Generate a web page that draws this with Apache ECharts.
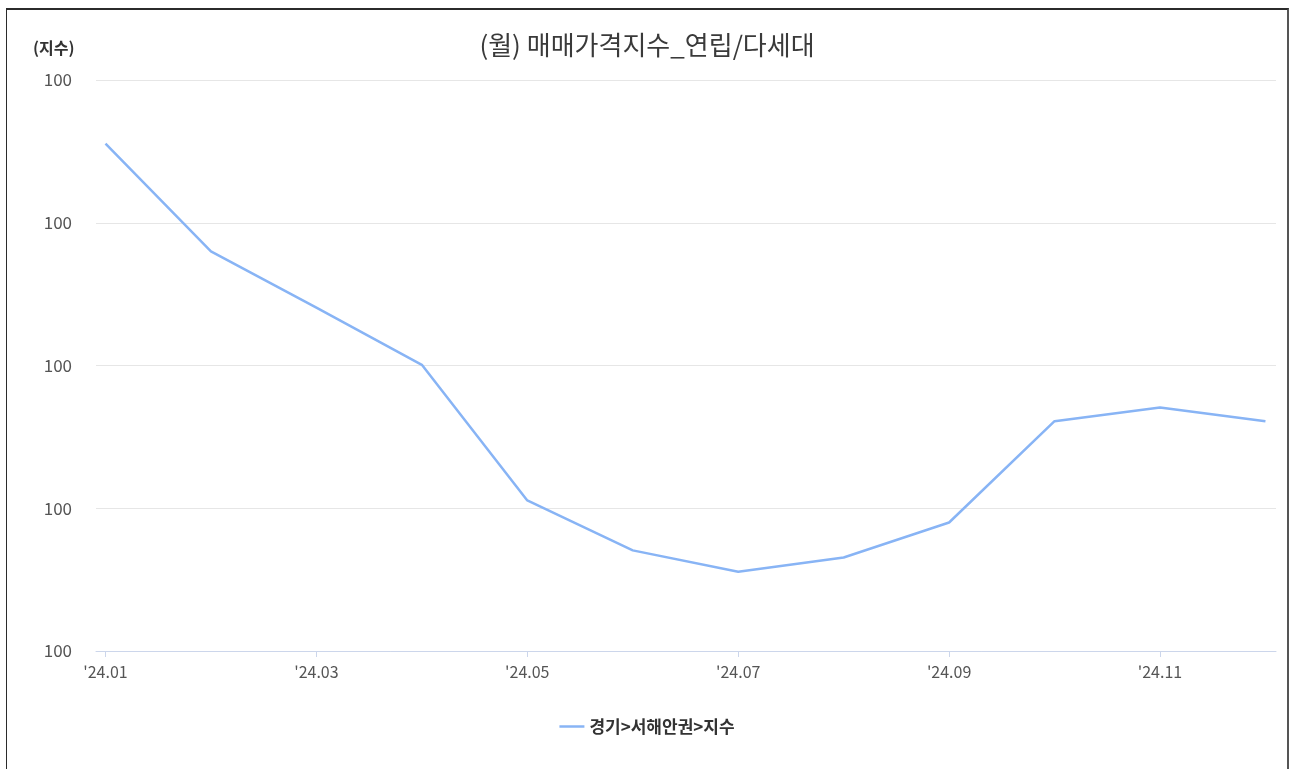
<!DOCTYPE html>
<html>
<head>
<meta charset="utf-8">
<script src="https://cdn.jsdelivr.net/npm/echarts@6/dist/echarts.min.js"></script>
<style>
html,body{margin:0;padding:0;background:#fff;width:1294px;height:769px;overflow:hidden;}
#frame{position:absolute;left:6px;top:8px;width:1283px;height:800px;border-top:2px solid #2b2b2b;border-left:1px solid #2b2b2b;border-right:2px solid #555;box-sizing:border-box;}
#main{position:absolute;left:0;top:0;width:1294px;height:769px;}
</style>
</head>
<body>
<div id="frame"></div>
<div id="main"></div>
<script>
const chartTitle = '(월) 매매가격지수_연립/다세대';
const yAxisName = '(지수)';
const seriesName = '경기>서해안권>지수';
const categories = ["'24.01","'24.02","'24.03","'24.04","'24.05","'24.06","'24.07","'24.08","'24.09","'24.10","'24.11","'24.12"];
const values = [100.311, 100.160, 100.081, 100.001, 99.811, 99.741, 99.711, 99.731, 99.780, 99.922, 99.941, 99.922];
const labelIndices = [0, 2, 4, 6, 8, 10];
const yMin = 99.6, yMax = 100.4, yStep = 0.2;

const chart = echarts.init(document.getElementById('main'), null, {renderer: 'canvas'});
const fontFam = '"Noto Sans CJK KR", "Noto Sans", sans-serif';
chart.setOption({
  backgroundColor: 'transparent',
  animation: false,
  title: [
    {text: chartTitle, left: 'center', top: 27,
     textStyle: {fontFamily: fontFam, fontSize: 26, fontWeight: 'normal', color: '#3a3a3a'}},
    {text: yAxisName, left: 28, top: 35,
     textStyle: {fontFamily: fontFam, fontSize: 16, fontWeight: 'bold', color: '#333'}}
  ],
  legend: {
    bottom: 29, left: 'center',
    icon: 'path://M0,0 L25,0 L25,2.5 L0,2.5 Z',
    itemWidth: 25, itemHeight: 3, itemGap: 10,
    textStyle: {fontFamily: fontFam, fontSize: 17, fontWeight: 'bold', color: '#333'},
    data: [seriesName]
  },
  grid: {left: 96, right: 18, top: 80, bottom: 118, containLabel: false},
  xAxis: {
    type: 'value', min: -0.09, max: 11.1,
    axisLine: {show: true, lineStyle: {color: '#ccd6eb', width: 1}},
    axisTick: {show: true, customValues: labelIndices, length: 6, lineStyle: {color: '#ccd6eb'}},
    axisLabel: {customValues: labelIndices, margin: 13, color: '#555', fontSize: 16,
      fontFamily: fontFam, formatter: v => categories[Math.round(v)] || ''},
    splitLine: {show: false}
  },
  yAxis: {
    type: 'value', min: yMin, max: yMax, interval: yStep,
    axisLine: {show: false}, axisTick: {show: false},
    axisLabel: {margin: 24, color: '#555', fontSize: 17, fontFamily: fontFam,
      formatter: v => String(Math.round(v))},
    splitLine: {lineStyle: {color: '#e6e6e6', width: 1}}
  },
  series: [{
    name: seriesName, type: 'line',
    data: values.map((v, i) => [i, v]),
    symbol: 'none', showSymbol: false,
    lineStyle: {color: '#88b4f5', width: 2.5},
    itemStyle: {color: '#88b4f5'}
  }]
});
</script>
</body>
</html>
